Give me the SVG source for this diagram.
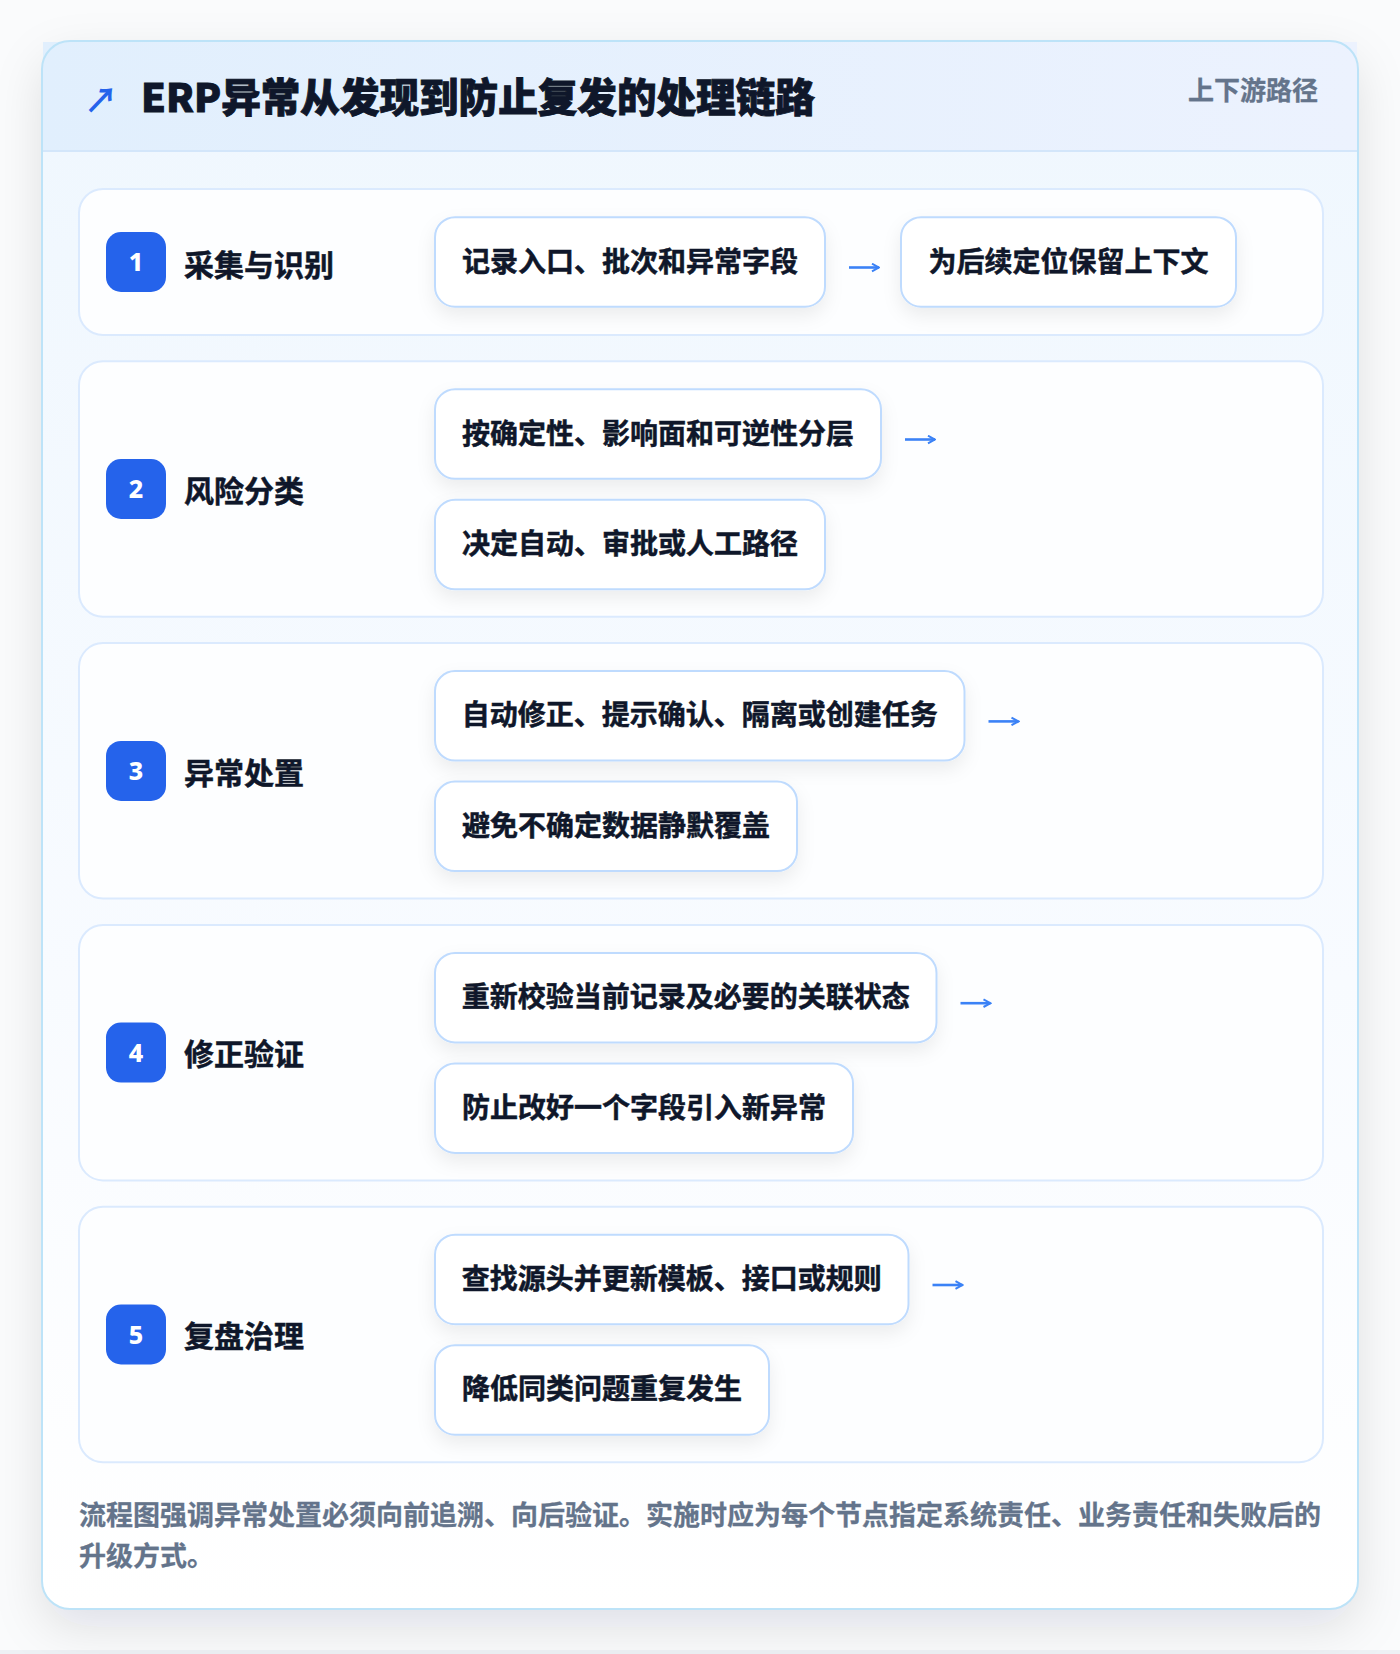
<svg xmlns="http://www.w3.org/2000/svg" width="1400" height="1654" viewBox="0 0 1400 1654">
  <defs>
    <linearGradient id="hdrGrad" x1="0" y1="0" x2="1" y2="0">
      <stop offset="0" stop-color="#e1effd"/>
      <stop offset="1" stop-color="#ecf2fe"/>
    </linearGradient>
    <linearGradient id="bodyGrad" x1="0" y1="0" x2="0" y2="1">
      <stop offset="0" stop-color="#eff7fe"/>
      <stop offset="0.6" stop-color="#f8fbff"/>
      <stop offset="1" stop-color="#ffffff"/>
    </linearGradient>
    <filter id="cardShadow" x="-10%" y="-10%" width="120%" height="125%">
      <feDropShadow dx="0" dy="18" stdDeviation="24" flood-color="#0f172a" flood-opacity="0.11"/>
    </filter>
    <filter id="boxShadow" x="-15%" y="-30%" width="130%" height="180%">
      <feDropShadow dx="0" dy="8" stdDeviation="9" flood-color="#0f172a" flood-opacity="0.07"/>
    </filter>
    <marker id="arrowHead" viewBox="0 0 10 10" refX="9" refY="5" markerWidth="10" markerHeight="10" markerUnits="userSpaceOnUse" orient="auto">
      <path d="M2,1.2 L9,5 L2,8.8" fill="none" stroke="#3b82f6" stroke-width="2"/>
    </marker>
    <style>
      .cjk { font-family: "Noto Sans CJK SC", "Noto Sans", sans-serif; }
      .title { font-size: 39.6px; font-weight: 900; fill: #0f172a; stroke: #0f172a; stroke-width: 0.9px; }
      .tag { font-size: 26px; font-weight: 700; fill: #64748b; stroke: #64748b; stroke-width: 0.3px; }
      .row { fill: #fdfeff; stroke: #dbeafe; stroke-width: 2; }
      .badge { fill: #2563eb; }
      .num { font-family: "Noto Sans", "DejaVu Sans", sans-serif; font-size: 25px; font-weight: 800; fill: #ffffff; text-anchor: middle; }
      .label { font-size: 30px; font-weight: 700; fill: #0f172a; stroke: #0f172a; stroke-width: 0.5px; }
      .box { fill: #ffffff; stroke: #bfdbfe; stroke-width: 2; }
      .boxtext { font-size: 28px; font-weight: 700; fill: #0f172a; text-anchor: middle; stroke: #0f172a; stroke-width: 0.5px; }
      .conn { stroke: #3b82f6; stroke-width: 2.6; fill: none; }
      .foot { font-size: 27px; font-weight: 700; fill: #64748b; stroke: #64748b; stroke-width: 0.3px; }
    </style>
  </defs>

  <rect x="0" y="0" width="1400" height="1654" fill="#fafbfc"/>
  <rect x="0" y="1650" width="1400" height="4" fill="#eef1f5"/>

  <g id="card">
    <rect x="42" y="41" width="1316" height="1568" rx="28" fill="url(#bodyGrad)" filter="url(#cardShadow)"/>
    <rect x="43" y="42" width="1314" height="109" fill="url(#hdrGrad)"/>
    <line x1="43" y1="151" x2="1357" y2="151" stroke="#d3e6fa" stroke-width="2"/>
    <rect x="42" y="41" width="1316" height="1568" rx="28" fill="none" stroke="#bde3f8" stroke-width="2"/>
  </g>

  <g id="header">
    <text class="cjk" x="84" y="113" font-size="34" font-weight="700" fill="#2563eb">↗</text>
    <text class="cjk title" x="141" y="112">ERP异常从发现到防止复发的处理链路</text>
    <text class="cjk tag" x="1318" y="100" text-anchor="end">上下游路径</text>
  </g>

  <g id="step1">
    <rect class="row" x="79" y="189" width="1244" height="146" rx="24"/>
    <rect class="badge" x="106" y="232" width="60" height="60" rx="15"/>
    <text class="num" x="136" y="271">1</text>
    <text class="cjk label" x="184" y="275.5">采集与识别</text>
  </g>
  <g id="step1-a">
    <rect class="box" x="435" y="217.2" width="390" height="89.5" rx="20" filter="url(#boxShadow)"/>
    <text class="cjk boxtext" x="630" y="271.5">记录入口、批次和异常字段</text>
  </g>
  <g id="step1-b">
    <rect class="box" x="901" y="217.2" width="335" height="89.5" rx="20" filter="url(#boxShadow)"/>
    <text class="cjk boxtext" x="1068.5" y="271.5">为后续定位保留上下文</text>
  </g>

  <g id="step2">
    <rect class="row" x="79" y="361.3" width="1244" height="255.5" rx="24"/>
    <rect class="badge" x="106" y="459" width="60" height="60" rx="15"/>
    <text class="num" x="136" y="498">2</text>
    <text class="cjk label" x="184" y="501.5">风险分类</text>
  </g>
  <g id="step2-a">
    <rect class="box" x="435" y="389.3" width="446" height="89.5" rx="20" filter="url(#boxShadow)"/>
    <text class="cjk boxtext" x="658" y="443.5">按确定性、影响面和可逆性分层</text>
  </g>
  <g id="step2-b">
    <rect class="box" x="435" y="499.8" width="390" height="89.5" rx="20" filter="url(#boxShadow)"/>
    <text class="cjk boxtext" x="630" y="554">决定自动、审批或人工路径</text>
  </g>

  <g id="step3">
    <rect class="row" x="79" y="643.1" width="1244" height="255.5" rx="24"/>
    <rect class="badge" x="106" y="740.9" width="60" height="60" rx="15"/>
    <text class="num" x="136" y="779.9">3</text>
    <text class="cjk label" x="184" y="783.5">异常处置</text>
  </g>
  <g id="step3-a">
    <rect class="box" x="435" y="671.1" width="529.5" height="89.5" rx="20" filter="url(#boxShadow)"/>
    <text class="cjk boxtext" x="699.75" y="725.4">自动修正、提示确认、隔离或创建任务</text>
  </g>
  <g id="step3-b">
    <rect class="box" x="435" y="781.6" width="362" height="89.5" rx="20" filter="url(#boxShadow)"/>
    <text class="cjk boxtext" x="616" y="835.8">避免不确定数据静默覆盖</text>
  </g>

  <g id="step4">
    <rect class="row" x="79" y="924.9" width="1244" height="255.5" rx="24"/>
    <rect class="badge" x="106" y="1022.6" width="60" height="60" rx="15"/>
    <text class="num" x="136" y="1061.6">4</text>
    <text class="cjk label" x="184" y="1065.2">修正验证</text>
  </g>
  <g id="step4-a">
    <rect class="box" x="435" y="952.9" width="501.5" height="89.5" rx="20" filter="url(#boxShadow)"/>
    <text class="cjk boxtext" x="685.75" y="1007.1">重新校验当前记录及必要的关联状态</text>
  </g>
  <g id="step4-b">
    <rect class="box" x="435" y="1063.4" width="418" height="89.5" rx="20" filter="url(#boxShadow)"/>
    <text class="cjk boxtext" x="644" y="1117.6">防止改好一个字段引入新异常</text>
  </g>

  <g id="step5">
    <rect class="row" x="79" y="1206.7" width="1244" height="255.5" rx="24"/>
    <rect class="badge" x="106" y="1304.5" width="60" height="60" rx="15"/>
    <text class="num" x="136" y="1343.5">5</text>
    <text class="cjk label" x="184" y="1347">复盘治理</text>
  </g>
  <g id="step5-a">
    <rect class="box" x="435" y="1234.7" width="473.5" height="89.5" rx="20" filter="url(#boxShadow)"/>
    <text class="cjk boxtext" x="671.75" y="1288.9">查找源头并更新模板、接口或规则</text>
  </g>
  <g id="step5-b">
    <rect class="box" x="435" y="1345.2" width="334" height="89.5" rx="20" filter="url(#boxShadow)"/>
    <text class="cjk boxtext" x="602" y="1399.4">降低同类问题重复发生</text>
  </g>

  <g id="connectors">
    <line class="conn" x1="849" y1="267.5" x2="879" y2="267.5" marker-end="url(#arrowHead)"/>
    <line class="conn" x1="905" y1="439.5" x2="935" y2="439.5" marker-end="url(#arrowHead)"/>
    <line class="conn" x1="988.5" y1="721.4" x2="1018.5" y2="721.4" marker-end="url(#arrowHead)"/>
    <line class="conn" x1="960.5" y1="1003.2" x2="990.5" y2="1003.2" marker-end="url(#arrowHead)"/>
    <line class="conn" x1="932.5" y1="1285" x2="962.5" y2="1285" marker-end="url(#arrowHead)"/>
  </g>

  <g id="footer">
    <text class="cjk foot" x="79" y="1525">流程图强调异常处置必须向前追溯、向后验证。实施时应为每个节点指定系统责任、业务责任和失败后的</text>
    <text class="cjk foot" x="79" y="1566">升级方式。</text>
  </g>
</svg>
